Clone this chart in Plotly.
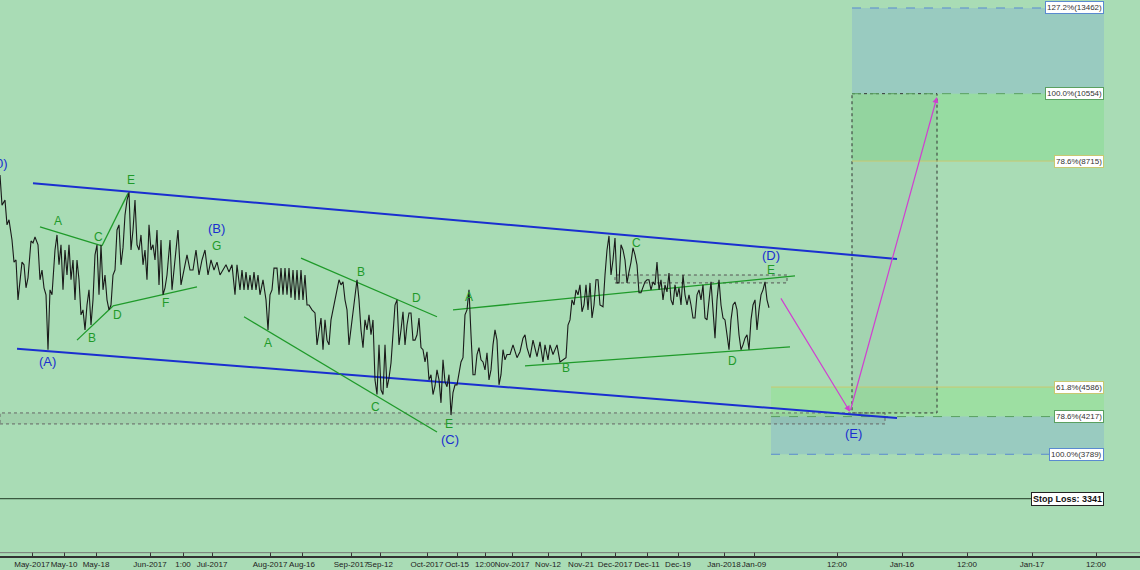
import math
import plotly.graph_objects as go

bar_x = [0,2,5,7,9,12,14,16,18,20,22,24,26,28,31,33,35,38,40,42,44,46,48,50,52,55,57,59,61,63,65,67,69,71,73,75,77,79,81,83,85,87,89,91,93,95,97,99,101,103,105,107,109,111,113,115,117,119,121,123,125,127,129,131,133,135,137,139,141,143,145,147,149,151,153,155,157,159,161,163,165,167,170,172,175,178,181,184,187,190,193,196,199,202,205,208,211,214,217,220,223,226,229,232,235,237,240,242,244,246,248,250,252,254,256,258,260,263,266,268,270,272,274,277,279,281,283,285,287,289,291,293,295,297,299,301,303,305,307,309,312,315,317,319,321,323,325,327,329,331,333,335,337,339,341,343,345,347,349,351,353,355,357,359,361,363,365,367,369,371,373,375,377,379,381,383,385,387,389,391,393,395,397,399,401,403,405,407,409,411,413,415,417,419,421,423,425,427,429,431,433,435,437,439,441,443,445,447,449,451,453,455,457,459,461,463,465,467,469,471,473,475,477,479,481,483,485,487,489,491,493,495,497,499,501,503,505,507,510,513,517,520,523,525,527,530,533,537,540,543,545,548,550,553,557,560,563,566,568,570,572,574,576,578,580,582,584,586,588,590,592,594,596,598,600,603,605,607,609,611,613,615,617,619,621,623,625,627,629,631,633,635,637,639,641,643,645,647,649,651,653,655,657,659,661,663,665,667,669,671,673,675,677,679,681,683,685,687,689,691,693,695,697,699,701,703,705,707,709,711,713,715,717,719,721,723,725,727,729,731,733,735,737,739,741,743,745,747,749,751,753,755,757,759,761,763,765,767,769]
price = [8375,7690,7800,7270,7375,6965,6540,6580,5875,6220,6540,6490,6080,6255,6945,6905,7025,6870,6220,6395,6080,5960,5100,6045,5960,6770,7065,6490,6870,6045,6770,6305,6870,6220,6580,5875,6580,6220,5630,5710,5395,5790,6045,5470,5875,6675,6870,5960,6870,6045,6305,5875,5710,5790,6305,6395,7165,7270,6490,6810,7475,7800,7975,6770,7165,7800,6870,6770,7065,6490,6770,6220,7270,6770,6870,6580,7165,6130,6965,5960,6080,6305,6965,6045,6580,7165,6130,6395,6675,6395,6395,6770,6305,6580,6770,6305,6580,6395,6540,6305,6395,6490,6360,6490,5960,6490,6045,6395,6045,6360,6045,6305,6045,6360,6045,6305,5960,6220,5875,5395,5960,6045,6430,6430,5960,6430,5960,6430,5960,6430,5910,6395,5875,6395,5875,6395,5875,6305,5790,5790,5710,5660,5170,5395,5580,5100,5550,5240,5170,5550,5710,5840,6045,6220,6130,6185,5875,5710,5170,5395,5710,5875,6220,5875,5395,5130,5550,5395,5630,5320,5550,4680,4490,5170,4550,4490,5170,4575,4705,4910,5395,5790,5875,5170,5395,5680,5170,5470,5660,5660,5240,5240,5320,5580,5130,5100,4925,5070,4680,4750,4490,4600,4815,4680,4385,4955,4655,4590,4750,4235,4515,4615,4615,4785,4925,4985,5630,5710,6045,5320,4750,4750,5030,5130,4955,4925,4815,5055,4680,4815,5170,5395,5240,4615,4750,5100,4955,5030,5030,5170,4985,5070,5270,5320,5130,4985,5240,5000,5215,4925,5170,4955,5170,5030,5170,4925,4955,4985,5470,5550,5875,5790,6045,5960,6130,5680,5790,6130,5710,6165,5580,5790,6220,6220,5790,5760,6305,6770,7045,6305,6580,7005,6165,6165,6870,6770,6580,6165,6360,6540,6810,6675,6490,5995,5995,6080,6185,6220,6220,6045,6185,6130,6540,6045,6220,5875,6130,6010,6340,5875,5790,6130,5925,6080,5790,6305,5960,5790,5960,5790,5580,5580,5960,6045,5875,6130,5580,5550,5875,6185,5710,5270,5875,6220,5790,5580,5550,5290,5100,5550,5790,5840,5710,5320,5100,5170,5270,5320,5100,5550,5790,5875,5395,5710,5960,6045,6185,5875,5745]

tick_x = [32,64,96,150,183,212,270,302,351,380,427,457,485,512,548,581,615,647,678,724,754,837,902,967,1032,1096]
tick_text = ["May-2017","May-10","May-18","Jun-2017","1:00","Jul-2017","Aug-2017","Aug-16","Sep-2017","Sep-12","Oct-2017","Oct-15","12:00","Nov-2017","Nov-12","Nov-21","Dec-2017","Dec-11","Dec-19","Jan-2018","Jan-09","12:00","Jan-16","12:00","Jan-17","12:00"]

# trend lines: (x0, p0, x1, p1)
blue_lines = [(33,8185,897,6600),(17,5115,897,4200)]
green_lines = [(40,7230,102,6850),(102,6850,128,7950),(77,5240,113,5775),(113,5775,197,6095),
               (244,5600,437,4036),(301,6615,437,5600),(453,5710,795,6290),(525,4870,790,5140)]

fib_levels = [13462,10554,8715,4586,4217,3789]
fib_names = ["127.2%","100.0%","78.6%","61.8%","78.6%","100.0%"]
stop_loss = 3341

blue_labels = [("0)",2,8667),("(A)",47,4925),("(B)",216,7186),("(C)",450,3946),("(D)",771,6673),("(E)",853,4025)]
green_labels = [("A",58,7350),("C",98,7023),("E",131,8259),("B",92,5272),("D",117,5627),("F",165,5824),("G",216,6847),
                ("A",268,5197),("B",361,6359),("D",416,5906),("C",375,4333),("E",449,4129),
                ("A",469,5923),("B",566,4841),("C",636,6905),("D",732,4938),("E",771,6396)]

L = math.log10
fig = go.Figure()

def rect(x0, x1, p0, p1, fill, line=None, dash=None):
    fig.add_trace(go.Scatter(x=[x0,x1,x1,x0,x0], y=[p0,p0,p1,p1,p0], mode="lines", fill="toself",
                             fillcolor=fill, line=dict(color=line or "rgba(0,0,0,0)", width=1, dash=dash),
                             hoverinfo="skip", showlegend=False))

rect(852, 1104, fib_levels[0], fib_levels[1], "rgba(140,190,200,0.55)")
rect(852, 1104, fib_levels[1], fib_levels[2], "rgba(140,220,150,0.6)")
rect(771, 1104, fib_levels[3], fib_levels[4], "rgba(150,225,150,0.6)")
rect(771, 1104, fib_levels[4], fib_levels[5], "rgba(140,190,200,0.55)")
rect(852, 937, fib_levels[1], 4261, "rgba(120,160,140,0.12)", "#333", "dot")
rect(615, 787, 6165, 6305, "rgba(0,0,0,0.04)", "#555", "dot")
rect(0, 885, 4130, 4261, "rgba(0,0,0,0.05)", "#666", "dot")

fib_colors = ["#5a8ad0","#5aa060","#c8c870","#c8c870","#5aa060","#5a8ad0"]
fib_dash = ["dash","dash","solid","solid","dash","dash"]
fib_x0 = [852,852,852,771,771,771]
for lv, c, d, x0 in zip(fib_levels, fib_colors, fib_dash, fib_x0):
    fig.add_trace(go.Scatter(x=[x0,1104], y=[lv,lv], mode="lines", line=dict(color=c, width=1, dash=d),
                             hoverinfo="skip", showlegend=False))
fig.add_trace(go.Scatter(x=[0,1104], y=[stop_loss,stop_loss], mode="lines", line=dict(color="#3a5a40", width=1.2),
                         hoverinfo="skip", showlegend=False))

for x0,p0,x1,p1 in blue_lines:
    fig.add_trace(go.Scatter(x=[x0,x1], y=[p0,p1], mode="lines", line=dict(color="#1a2fd0", width=2),
                             hoverinfo="skip", showlegend=False))
for x0,p0,x1,p1 in green_lines:
    fig.add_trace(go.Scatter(x=[x0,x1], y=[p0,p1], mode="lines", line=dict(color="#1f9a2a", width=1.3),
                             hoverinfo="skip", showlegend=False))

fig.add_trace(go.Scatter(x=bar_x, y=price, mode="lines", line=dict(color="#1a1a1a", width=1.1),
                         hoverinfo="skip", showlegend=False))

anns = []
for t,x,p in blue_labels:
    anns.append(dict(x=x, y=L(p), text=t, showarrow=False, font=dict(color="#1a2fd0", size=13, family="Liberation Sans")))
for t,x,p in green_labels:
    anns.append(dict(x=x, y=L(p), text=t, showarrow=False, font=dict(color="#1f9a2a", size=12, family="Liberation Sans")))
for lv, n, c in zip(fib_levels, fib_names, fib_colors):
    anns.append(dict(x=1104, y=L(lv), xanchor="right", text=f"{n}({lv})", showarrow=False, bgcolor="white",
                     bordercolor=c, borderwidth=1, borderpad=1, font=dict(size=8, color="#333", family="Liberation Sans")))
anns.append(dict(x=1104, y=L(stop_loss), xanchor="right", text=f"<b>Stop Loss: {stop_loss}</b>", showarrow=False,
                 bgcolor="white", bordercolor="#222", borderwidth=1, borderpad=1, font=dict(size=9, color="#111", family="Liberation Sans")))
# projection arrows
anns.append(dict(x=850, y=L(4275), ax=780, ay=L(5925), axref="x", ayref="y", xref="x", yref="y", showarrow=True,
                 arrowhead=2, arrowsize=1, arrowwidth=1.2, arrowcolor="#d040d0", text=""))
anns.append(dict(x=937, y=L(10455), ax=850, ay=L(4275), axref="x", ayref="y", xref="x", yref="y", showarrow=True,
                 arrowhead=2, arrowsize=1, arrowwidth=1.2, arrowcolor="#d040d0", text=""))

fig.update_layout(width=1140, height=570, margin=dict(l=0, r=0, t=0, b=14),
                  paper_bgcolor="#a9dcb5", plot_bgcolor="#a9dcb5", annotations=anns,
                  shapes=[dict(type="line", xref="paper", yref="paper", x0=0, x1=1, y0=0.006, y1=0.006,
                               line=dict(color="#777", width=1))])
fig.update_xaxes(range=[0,1140], tickvals=tick_x, ticktext=tick_text, ticks="inside", ticklen=4, tickcolor="#333",
                 showgrid=False, zeroline=False, showline=True, linecolor="#333", linewidth=1.5, tickangle=0,
                 tickfont=dict(size=8, color="#222", family="Liberation Sans"))
fig.update_yaxes(type="log", range=[L(2838), L(13771)], visible=False, showgrid=False)
fig.write_html("out.html", config={"displayModeBar": False},
               post_script="document.body.style.margin='0';document.body.style.overflow='hidden';")
